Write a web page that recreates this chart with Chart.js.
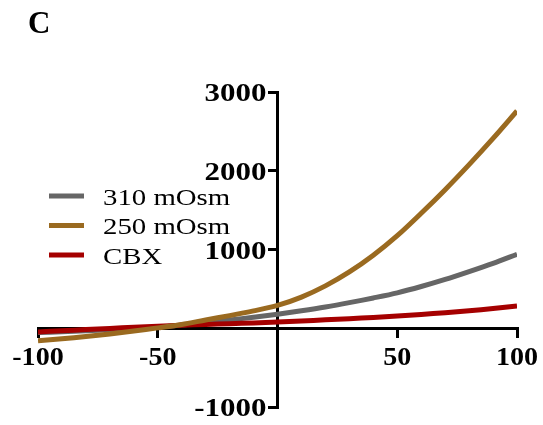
<!DOCTYPE html>
<html>
<head>
<meta charset="utf-8">
<script src="https://cdn.jsdelivr.net/npm/chart.js@4/dist/chart.umd.min.js"></script>
<style>
  html, body { margin: 0; padding: 0; background: #fff; }
  canvas { display: block; }
</style>
</head>
<body>
<canvas id="iv-chart" width="543" height="425"></canvas>
<script>
// Current-voltage traces, panel C

const voltages = [-100, -90, -80, -70, -60, -50, -40, -30, -20, -10, 0, 10, 20, 30, 40, 50, 60, 70, 80, 90, 100];
const iso310 = [-55, -45, -33, -20, -5, 12, 40, 70, 105, 140, 178, 222, 270, 325, 385, 450, 530, 620, 720, 825, 940];
const hypo250 = [-160, -133, -105, -72, -35, 5, 48, 105, 160, 220, 290, 396, 538, 715, 927, 1175, 1460, 1760, 2078, 2411, 2760];
const cbx = [-47, -32, -17, -2, 13, 27, 38, 48, 58, 68, 80, 93, 107, 122, 138, 155, 175, 198, 222, 250, 282];

const seriesNames = ['310 mOsm', '250 mOsm', 'CBX'];
const seriesColors = ['#666666', '#9a6a20', '#a50000'];

const xTicks = [-100, -50, 50, 100];
const yTicks = [3000, 2000, 1000, -1000];

const toPoints = ys => voltages.map((v, i) => ({ x: v, y: ys[i] }));

// tick labels and legend are drawn by hand so the wide serif type can be stretched
const textPlugin = {
  id: 'panelText',
  afterDraw(chart) {
    const ctx = chart.ctx;
    const xs = chart.scales.x, ys = chart.scales.y;
    const x0 = xs.getPixelForValue(0), y0 = ys.getPixelForValue(0);
    ctx.save();
    ctx.fillStyle = '#000';

    ctx.font = 'bold 31px "Liberation Serif"';
    ctx.textAlign = 'left';
    ctx.fillText('C', 28, 33);

    ctx.font = 'bold 26px "Liberation Serif"';
    ctx.textAlign = 'right';
    yTicks.forEach(t => {
      const py = ys.getPixelForValue(t);
      ctx.save();
      ctx.translate(x0 - 11, py + 9);
      ctx.scale(1.19, 1);
      ctx.fillText(String(t), 0, 0);
      ctx.restore();
    });
    ctx.textAlign = 'center';
    xTicks.forEach(t => {
      const px = xs.getPixelForValue(t);
      ctx.save();
      ctx.translate(px, y0 + 37);
      ctx.scale(1.08, 1);
      ctx.fillText(String(t), 0, 0);
      ctx.restore();
    });

    ctx.font = '24px "Liberation Serif"';
    ctx.textAlign = 'left';
    seriesNames.forEach((name, i) => {
      const ly = 196 + i * 29.5;
      ctx.fillStyle = seriesColors[i];
      ctx.fillRect(49, ly - 2.5, 35, 5);
      ctx.fillStyle = '#000';
      ctx.save();
      ctx.translate(103, ly + 8.5);
      ctx.scale(1.2, 1);
      ctx.fillText(name, 0, 0);
      ctx.restore();
    });
    ctx.restore();
  }
};

new Chart(document.getElementById('iv-chart'), {
  type: 'line',
  data: {
    datasets: [
      { label: seriesNames[0], data: toPoints(iso310), borderColor: seriesColors[0], order: 2 },
      { label: seriesNames[1], data: toPoints(hypo250), borderColor: seriesColors[1], order: 0 },
      { label: seriesNames[2], data: toPoints(cbx), borderColor: seriesColors[2], order: 1 },
    ].map(d => Object.assign(d, { borderWidth: 5, pointRadius: 0, tension: 0.3, fill: false })),
  },
  options: {
    responsive: false,
    animation: false,
    layout: { padding: { left: 38, right: 26, top: 92, bottom: 18 } },
    plugins: { legend: { display: false }, tooltip: { enabled: false } },
    scales: {
      x: {
        type: 'linear', min: -100, max: 100,
        position: { y: 0 },
        ticks: { display: false, stepSize: 50 },
        grid: { drawOnChartArea: false, drawTicks: true, tickLength: 8, color: '#000', lineWidth: 3 },
        border: { display: true, color: '#000', width: 3 },
      },
      y: {
        type: 'linear', min: -1000, max: 3000,
        position: { x: 0 },
        ticks: { display: false, stepSize: 1000 },
        grid: { drawOnChartArea: false, drawTicks: true, tickLength: 8, color: '#000', lineWidth: 3 },
        border: { display: true, color: '#000', width: 3 },
      },
    },
  },
  plugins: [textPlugin],
});
</script>
</body>
</html>
